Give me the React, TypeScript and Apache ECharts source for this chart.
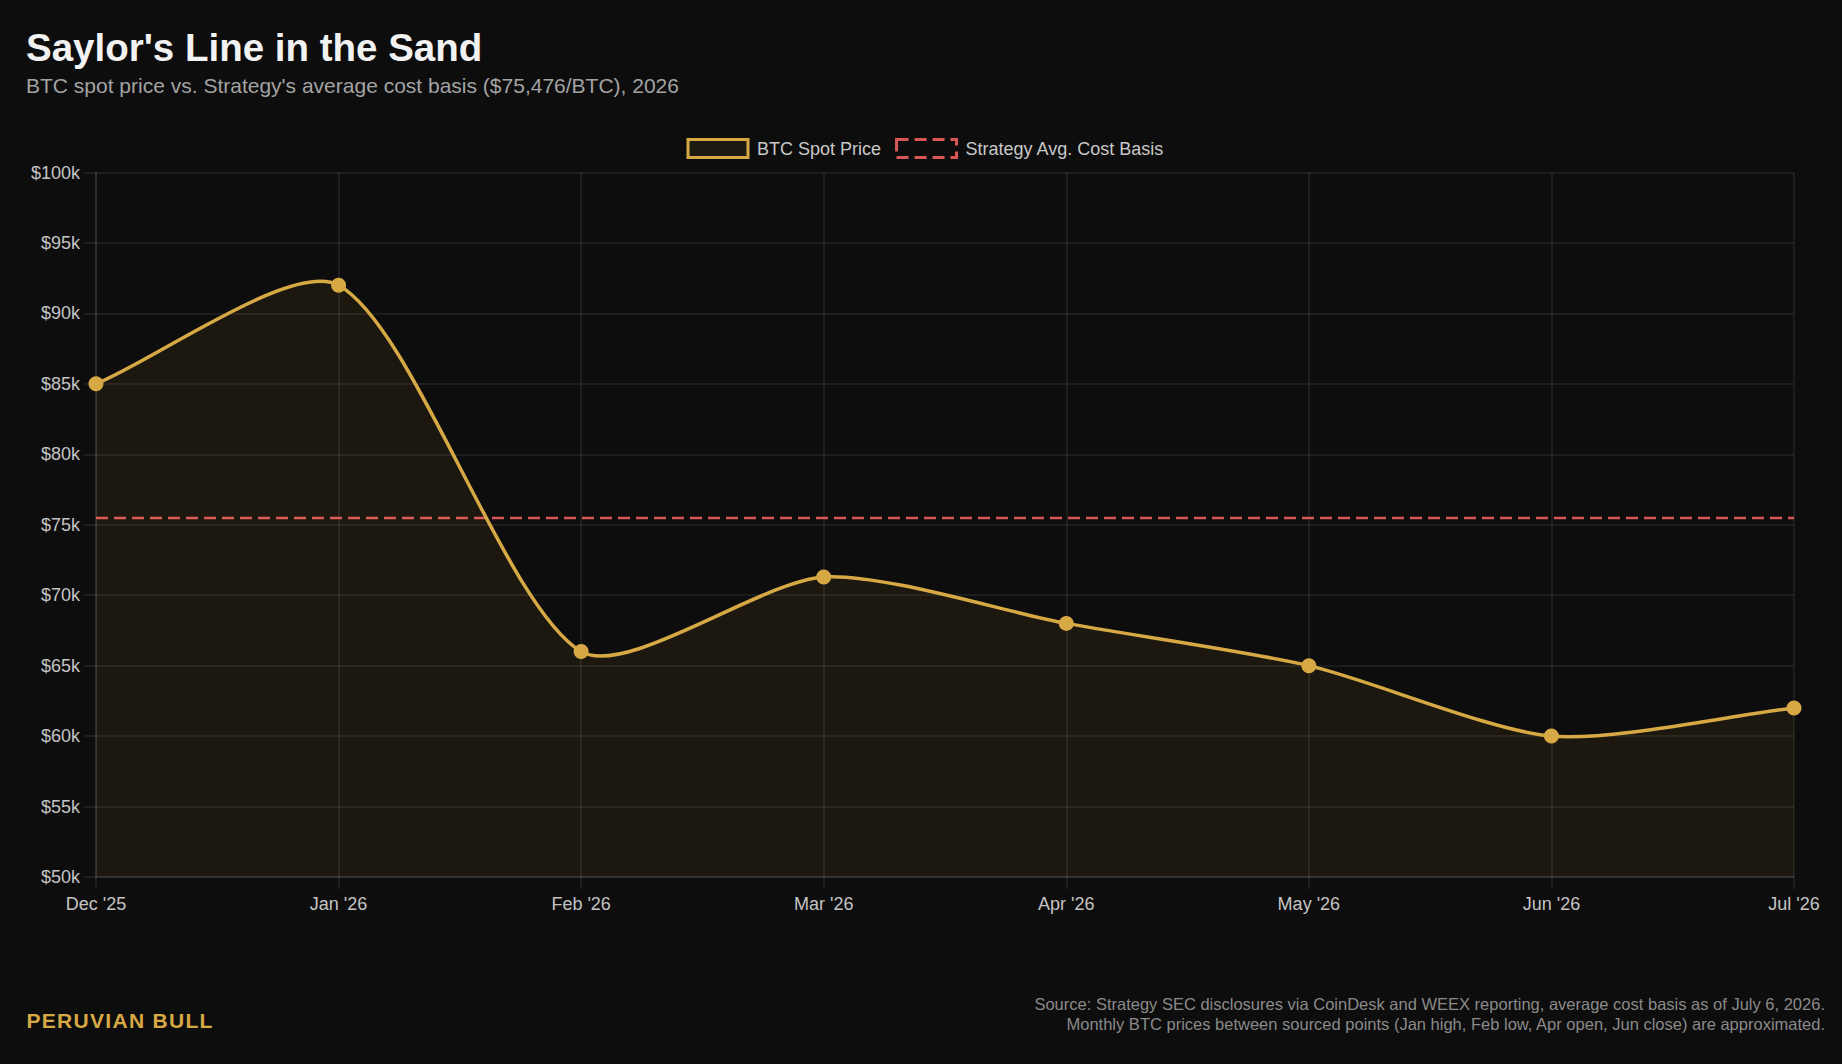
import React, { useEffect, useRef } from "react";
import * as echarts from "echarts";

const categories = ["Dec '25", "Jan '26", "Feb '26", "Mar '26", "Apr '26", "May '26", "Jun '26", "Jul '26"];
const btcPrice = [85000, 92000, 66000, 71300, 68000, 65000, 60000, 62000];
const costBasisValue = 75476;
const costBasis = categories.map(() => costBasisValue);
const yMin = 50000;
const yMax = 100000;
const yStep = 5000;
const TENSION = 0.25;

const FONT = "'Liberation Sans', Arial, Helvetica, sans-serif";
const GOLD = "#d6a945";
const RED = "#d95757";
const BRAND = "PERUVIAN BULL";

function spacedText(text: string, x0: number, y: number, font: string, spacing: number, fill: string) {
  const cv = document.createElement("canvas");
  const ctx = cv.getContext("2d")!;
  ctx.font = font;
  const out: any[] = [];
  let x = x0;
  for (const ch of text) {
    out.push({
      type: "text",
      x,
      y,
      style: { text: ch, font, fill, textVerticalAlign: "middle", textAlign: "left" },
    });
    x += ctx.measureText(ch).width + spacing;
  }
  return out;
}

// Cardinal-style spline (tension-based control points, allows overshoot)
function splinePath(pts: number[][], t: number) {
  const n = pts.length;
  const cps: { prev: number[]; next: number[] }[] = [];
  for (let i = 0; i < n; i++) {
    const cur = pts[i];
    const prev = i > 0 ? pts[i - 1] : cur;
    const next = i < n - 1 ? pts[i + 1] : cur;
    const d01 = Math.hypot(cur[0] - prev[0], cur[1] - prev[1]);
    const d12 = Math.hypot(next[0] - cur[0], next[1] - cur[1]);
    let s01 = d01 / (d01 + d12);
    let s12 = d12 / (d01 + d12);
    if (!isFinite(s01)) s01 = 0;
    if (!isFinite(s12)) s12 = 0;
    const fa = t * s01;
    const fb = t * s12;
    cps.push({
      prev: [cur[0] - fa * (next[0] - prev[0]), cur[1] - fa * (next[1] - prev[1])],
      next: [cur[0] + fb * (next[0] - prev[0]), cur[1] + fb * (next[1] - prev[1])],
    });
  }
  let d = `M${pts[0][0]},${pts[0][1]}`;
  for (let i = 1; i < n; i++) {
    const a = cps[i - 1].next;
    const b = cps[i].prev;
    d += ` C${a[0]},${a[1]} ${b[0]},${b[1]} ${pts[i][0]},${pts[i][1]}`;
  }
  return d;
}

export default function App() {
  const ref = useRef<HTMLDivElement>(null);
  useEffect(() => {
    document.body.style.margin = "0";
    document.body.style.background = "#0d0d0d";
    const chart = echarts.init(ref.current!, undefined, { renderer: "svg" });
    chart.setOption({
      animation: false,
      backgroundColor: "#0d0d0d",
      textStyle: { fontFamily: FONT },
      graphic: [
        {
          type: "text",
          x: 26,
          y: 47,
          style: {
            text: "Saylor's Line in the Sand",
            font: `bold 38.5px ${FONT}`,
            fill: "#f2f2f2",
            textVerticalAlign: "middle",
          },
        },
        {
          type: "text",
          x: 26,
          y: 85.5,
          style: {
            text: "BTC spot price vs. Strategy's average cost basis ($75,476/BTC), 2026",
            font: `21px ${FONT}`,
            fill: "#a3a3a3",
            textVerticalAlign: "middle",
          },
        },
        ...spacedText(BRAND, 26.5, 1020, `bold 21px ${FONT}`, 1.3, GOLD),
        {
          type: "text",
          x: 1825,
          y: 1004,
          style: {
            text:
              "Source: Strategy SEC disclosures via CoinDesk and WEEX reporting, average cost basis as of July 6, 2026.",
            font: `16.5px ${FONT}`,
            fill: "#8a8a8a",
            textAlign: "right",
            textVerticalAlign: "middle",
          },
        },
        {
          type: "text",
          x: 1825,
          y: 1024,
          style: {
            text:
              "Monthly BTC prices between sourced points (Jan high, Feb low, Apr open, Jun close) are approximated.",
            font: `16.5px ${FONT}`,
            fill: "#8a8a8a",
            textAlign: "right",
            textVerticalAlign: "middle",
          },
        },
      ],
      legend: {
        left: 686.5,
        top: 138,
        padding: 0,
        icon: "rect",
        itemWidth: 60,
        itemHeight: 18,
        itemGap: 14,
        textStyle: { color: "#c8c8c8", fontSize: 18, fontFamily: FONT, padding: [0, 0, 0, 4] },
        data: [
          {
            name: "BTC Spot Price",
            itemStyle: { color: "#1d1a12", borderColor: GOLD, borderWidth: 3 },
          },
          {
            name: "Strategy Avg. Cost Basis",
            itemStyle: { color: "rgba(0,0,0,0)", borderColor: RED, borderWidth: 3, borderType: [12, 6] },
          },
        ],
      },
      grid: { left: 96, right: 48, top: 172.5, bottom: 187, containLabel: false },
      xAxis: {
        type: "category",
        data: categories,
        boundaryGap: false,
        axisLine: { show: true, lineStyle: { color: "rgba(255,255,255,0.1)", width: 1.5 } },
        axisTick: { show: true, length: 12, alignWithLabel: true, lineStyle: { color: "rgba(255,255,255,0.1)", width: 1.5 } },
        axisLabel: { color: "#c4c4c4", fontSize: 18, fontFamily: FONT, margin: 18, interval: 0, showMinLabel: true, showMaxLabel: true },
        splitLine: { show: true, lineStyle: { color: "rgba(255,255,255,0.09)", width: 1.5 } },
      },
      yAxis: {
        type: "value",
        min: yMin,
        max: yMax,
        interval: yStep,
        axisLine: { show: true, lineStyle: { color: "rgba(255,255,255,0.1)", width: 1.5 } },
        axisTick: { show: true, length: 12, lineStyle: { color: "rgba(255,255,255,0.1)", width: 1.5 } },
        axisLabel: {
          color: "#c4c4c4",
          fontSize: 18,
          fontFamily: FONT,
          margin: 16,
          formatter: (v: number) => `$${v / 1000}k`,
        },
        splitLine: { show: true, lineStyle: { color: "rgba(255,255,255,0.09)", width: 1.5 } },
      },
      series: [
        {
          name: "Strategy Avg. Cost Basis",
          type: "line",
          data: costBasis,
          symbol: "none",
          z: 2,
          itemStyle: { color: RED },
          lineStyle: { color: RED, width: 2.5, type: [12, 6] },
        },
        {
          name: "btc-curve",
          type: "custom",
          z: 3,
          silent: true,
          clip: false,
          data: btcPrice.map((v, i) => [i, v]),
          renderItem: (params: any, api: any) => {
            if (params.dataIndex !== 0) return null;
            const pts = btcPrice.map((v, i) => api.coord([i, v]));
            const curve = splinePath(pts, TENSION);
            const baseL = api.coord([0, yMin]);
            const baseR = api.coord([btcPrice.length - 1, yMin]);
            const area = `${curve} L${baseR[0]},${baseR[1]} L${baseL[0]},${baseL[1]} Z`;
            return {
              type: "group",
              children: [
                {
                  type: "path",
                  shape: { pathData: area },
                  style: { fill: "rgba(214,169,69,0.08)", stroke: "none" },
                },
                {
                  type: "path",
                  shape: { pathData: curve },
                  style: { fill: "none", stroke: GOLD, lineWidth: 3.5, lineJoin: "round" },
                },
              ],
            };
          },
        },
        {
          name: "BTC Spot Price",
          type: "line",
          data: btcPrice,
          symbol: "circle",
          symbolSize: 15,
          z: 4,
          itemStyle: { color: GOLD },
          lineStyle: { color: GOLD, width: 0, opacity: 0 },
        },
      ],
    });
    return () => chart.dispose();
  }, []);
  return <div ref={ref} style={{ width: 1842, height: 1064, background: "#0d0d0d" }} />;
}
